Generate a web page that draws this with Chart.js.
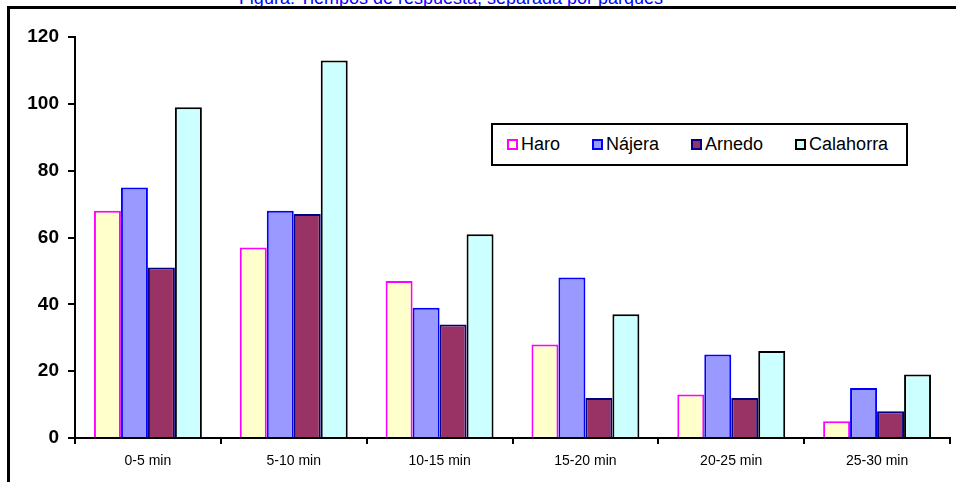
<!DOCTYPE html>
<html>
<head>
<meta charset="utf-8">
<script src="https://cdn.jsdelivr.net/npm/chart.js@4/dist/chart.umd.min.js"></script>
<style>
    body { margin: 0; background: #fff; font-family: Arial, "Liberation Sans", sans-serif; }
    #wrap { position: relative; width: 956px; height: 482px; overflow: hidden; }
    #title {
        position: absolute; left: 0; width: 902px; top: -11px;
        text-align: center; color: #0000ff; font-size: 18px; line-height: 18px;
    }
    #frame {
        position: absolute; left: 7px; top: 6px; right: 0; bottom: -5px;
        border-top: 3px solid #000; border-left: 3px solid #000; z-index: 2;
    }
    #legend {
        position: absolute; left: 491px; top: 123px; width: 417px; height: 43px;
        border: 2px solid #000; background: #fff; z-index: 3;
        display: flex; align-items: center; padding-left: 14px; box-sizing: border-box;
        font-size: 18px; color: #000;
    }
    #legend .item { display: flex; align-items: center; margin-right: 32px; }
    #legend .box { width: 7px; height: 7px; border: 2px solid; margin-right: 3px; }
    canvas { position: absolute; left: 0; top: 0; }
</style>
</head>
<body>
<div id="wrap">
    <div id="title">Figura: Tiempos de respuesta, separada por parques</div>
    <div id="frame"></div>
    <div id="legend"></div>
    <canvas id="chart" width="956" height="482"></canvas>
</div>
<script>
const categories = ['0-5 min', '5-10 min', '10-15 min', '15-20 min', '20-25 min', '25-30 min'];
const seriesNames = ['Haro', 'Nájera', 'Arnedo', 'Calahorra'];
const haro = [68, 57, 47, 28, 13, 5];
const najera = [75, 68, 39, 48, 25, 15];
const arnedo = [51, 67, 34, 12, 12, 8];
const calahorra = [99, 113, 61, 37, 26, 19];
const yTicks = [0, 20, 40, 60, 80, 100, 120];

const fills = ['#ffffcc', '#9999ff', '#993366', '#ccffff'];
const borders = ['#ff00ff', '#0000ff', '#000080', '#000000'];
const values = [haro, najera, arnedo, calahorra];

const datasets = seriesNames.map((name, i) => ({
    label: name,
    data: values[i],
    backgroundColor: fills[i],
    borderColor: borders[i],
    borderWidth: 2,
    borderSkipped: 'bottom'
}));

// legend drawn as html so it can sit inside the plot
const legend = document.getElementById('legend');
seriesNames.forEach((name, i) => {
    const item = document.createElement('div');
    item.className = 'item';
    const box = document.createElement('span');
    box.className = 'box';
    box.style.background = fills[i];
    box.style.borderColor = borders[i];
    const txt = document.createElement('span');
    txt.textContent = name;
    item.appendChild(box);
    item.appendChild(txt);
    legend.appendChild(item);
});

new Chart(document.getElementById('chart').getContext('2d'), {
    type: 'bar',
    data: { labels: categories, datasets: datasets },
    options: {
        responsive: false,
        animation: false,
        layout: { padding: { left: 0, right: 6, top: 37, bottom: 0 } },
        datasets: { bar: { categoryPercentage: 0.74, barPercentage: 1 } },
        plugins: {
            legend: { display: false },
            title: { display: false },
            tooltip: { enabled: false }
        },
        scales: {
            x: {
                grid: { drawOnChartArea: false, drawTicks: true, tickLength: 6, color: '#000', lineWidth: 2, offset: true },
                border: { color: '#000', width: 2 },
                ticks: { color: '#000', font: { family: 'Arial', size: 14 }, padding: 9, maxRotation: 0 },
                afterFit: (scale) => { scale.height = 44; }
            },
            y: {
                min: 0,
                max: 120,
                afterBuildTicks: (scale) => { scale.ticks = yTicks.map(v => ({ value: v })); },
                grid: { drawOnChartArea: false, drawTicks: true, tickLength: 7, color: '#000', lineWidth: 2 },
                border: { color: '#000', width: 2 },
                ticks: { color: '#000', font: { family: 'Arial', size: 19, weight: 'bold' }, padding: 9 },
                afterFit: (scale) => { scale.width = 75; }
            }
        }
    }
});
</script>
</body>
</html>
